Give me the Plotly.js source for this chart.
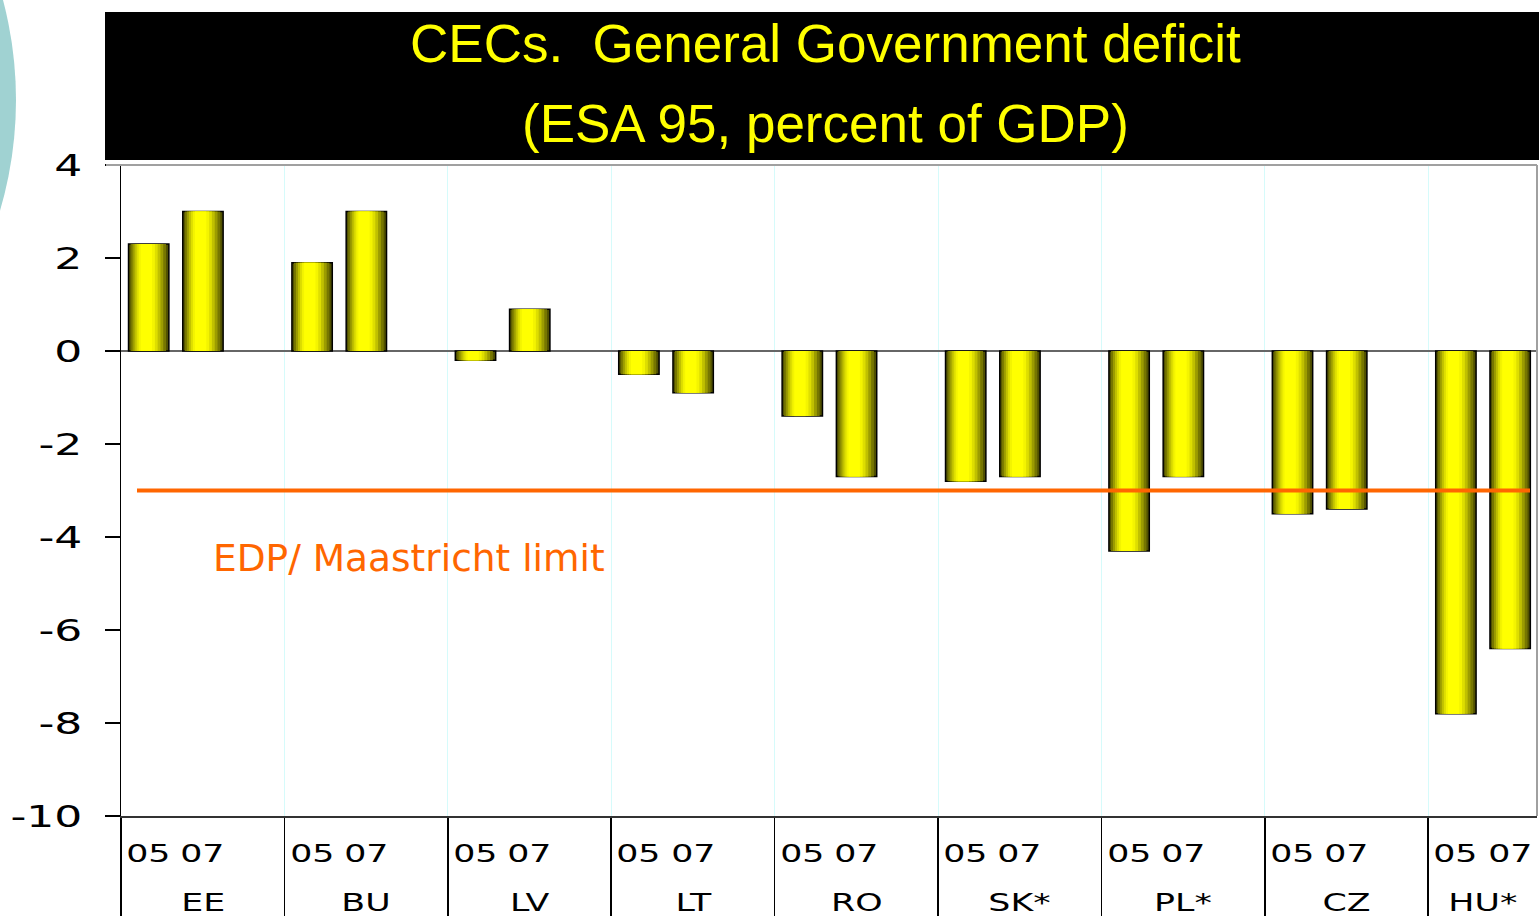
<!DOCTYPE html>
<html>
<head>
<meta charset="utf-8">
<script src="https://cdn.plot.ly/plotly-3.0.1.min.js"></script>
<style>html,body{margin:0;padding:0;background:#fff;}#chart{width:1539px;height:916px;}</style>
</head>
<body>
<div id="chart"></div>
<script>
// ---- data ----
const categories = ['EE', 'BU', 'LV', 'LT', 'RO', 'SK*', 'PL*', 'CZ', 'HU*'];
const yearLabels = ['05', '07'];
const deficit05 = [2.3, 1.9, -0.2, -0.5, -1.4, -2.8, -4.3, -3.5, -7.8];
const deficit07 = [3.0, 3.0, 0.9, -0.9, -2.7, -2.7, -2.7, -3.4, -6.4];
const yTickVals = [4, 2, 0, -2, -4, -6, -8, -10];
const yTickText = ['4', '2', '0', '-2', '-4', '-6', '-8', '-10'];
const limitValue = -3;
const limitLabel = 'EDP/ Maastricht limit';
const titleLines = ['CECs.\u00a0 General Government deficit', '(ESA 95, percent of GDP)'];

// ---- geometry helpers (pixel -> paper) ----
const W = 1539, H = 916;
const mL = 121, mR = 2, mT = 165, mB = 100;
const plotW = W - mL - mR, plotH = H - mT - mB;
const px = p => (p - mL) / plotW;
const py = p => (H - mB - p) / plotH;

const xIdx = categories.map((c, i) => i);
const barW = 0.247;
const seriesOffsets = [-0.454, -0.122];
const seriesData = [deficit05, deficit07];
const layers = [
  [1.00, '#505000'],
  [0.88, '#767600'],
  [0.76, '#9c9c00'],
  [0.64, '#c0c000'],
  [0.52, '#dede00'],
  [0.40, '#f4f400'],
  [0.28, '#ffff00']
];

const traces = [];
seriesData.forEach((vals, s) => {
  layers.forEach(([w, col], li) => {
    traces.push({
      type: 'bar',
      x: xIdx,
      y: vals,
      offset: seriesOffsets[s] + barW * (1 - w) * 0.42,
      width: barW * w,
      marker: {
        color: col,
        line: li === 0 ? {color: '#000', width: 1.5} : {width: 0}
      },
      hoverinfo: 'skip',
      showlegend: false
    });
  });
});

const boundaries = categories.map((c, i) => i - 0.5);

const annotations = [];
const stretchIdx = [];
titleLines.forEach((t, i) => {
  annotations.push({
    text: t, xref: 'paper', yref: 'paper',
    x: px(825), y: py(i === 0 ? 43.5 : 123.5),
    xanchor: 'center', yanchor: 'middle', showarrow: false,
    font: {family: 'Liberation Sans, Arial, sans-serif', size: 53, color: '#ffff00'}
  });
});
annotations.push({
  text: limitLabel, xref: 'paper', yref: 'paper',
  x: px(211), y: py(558), xanchor: 'left', yanchor: 'middle', showarrow: false,
  font: {family: 'DejaVu Sans, Verdana, sans-serif', size: 37.5, color: '#ff6600'}
});
const axisFont = {family: 'DejaVu Sans, Verdana, sans-serif', size: 24, color: '#000'};
categories.forEach((c, i) => {
  yearLabels.forEach((yl, s) => {
    stretchIdx.push(annotations.length);
    annotations.push({
      text: yl, xref: 'x', yref: 'paper',
      x: i + seriesOffsets[s] + barW / 2, y: py(853.5),
      xanchor: 'center', yanchor: 'middle', showarrow: false,
      font: axisFont
    });
  });
  const last = i === categories.length - 1;
  stretchIdx.push(annotations.length);
  annotations.push({
    text: c, xref: last ? 'paper' : 'x', yref: 'paper',
    x: last ? px(1483) : i + seriesOffsets[1] + barW / 2, y: py(903),
    xanchor: 'center', yanchor: 'middle', showarrow: false,
    font: axisFont
  });
});

const shapes = [
  {type: 'circle', xref: 'paper', yref: 'paper', layer: 'below',
   x0: px(-766), x1: px(16), y0: py(491), y1: py(-291),
   fillcolor: '#a0d2d2', line: {width: 0}},
  {type: 'rect', xref: 'paper', yref: 'paper',
   x0: px(105), x1: px(1539), y0: py(160), y1: py(12),
   fillcolor: '#000', line: {width: 0}},
  {type: 'line', xref: 'paper', yref: 'paper',
   x0: px(106), x1: px(1537), y0: 1, y1: 1,
   line: {color: '#a0a0a0', width: 2}},
  {type: 'line', xref: 'paper', yref: 'paper',
   x0: 1, x1: 1, y0: 0, y1: 1,
   line: {color: '#a0a0a0', width: 2}},
  {type: 'line', xref: 'paper', yref: 'y',
   x0: px(137), x1: px(1530), y0: limitValue, y1: limitValue,
   line: {color: '#ff6600', width: 4}}
];

const layout = {
  width: W, height: H,
  margin: {l: mL, r: mR, t: mT, b: mB, pad: 0},
  paper_bgcolor: '#fff', plot_bgcolor: '#fff',
  barmode: 'overlay',
  showlegend: false,
  hovermode: false,
  xaxis: {
    range: [-0.5, -0.5 + plotW / 163.4],
    tickvals: boundaries, ticks: 'outside', ticklen: 100,
    tickcolor: '#000', tickwidth: 1.5, showticklabels: false,
    showgrid: true, gridcolor: '#d6fbfb', gridwidth: 1,
    zeroline: false, showline: true, linecolor: '#333', linewidth: 1.5,
    fixedrange: true
  },
  yaxis: {
    range: [-10, 4], tickvals: yTickVals, ticktext: yTickText,
    ticks: 'outside', ticklen: 15, tickcolor: '#000', tickwidth: 1.5,
    showline: true, linecolor: '#000', linewidth: 1.5,
    showgrid: false, zeroline: true, zerolinecolor: '#666', zerolinewidth: 1.5,
    tickfont: {family: 'DejaVu Sans, Verdana, sans-serif', size: 31, color: '#000'},
    ticklabelstandoff: 16,
    fixedrange: true
  },
  shapes: shapes,
  annotations: annotations
};

// the original slide's axis lettering is horizontally stretched
function stretchText(el, sx) {
  const x = parseFloat(el.getAttribute('x')) || 0;
  const t = el.getAttribute('transform') || '';
  el.setAttribute('transform', t + ' translate(' + x + ',0) scale(' + sx + ',1) translate(' + (-x) + ',0)');
}

Plotly.newPlot('chart', traces, layout, {displayModeBar: false, staticPlot: true}).then(gd => {
  gd.querySelectorAll('.ytick text').forEach(el => stretchText(el, 1.42));
  gd.querySelectorAll('.annotation').forEach(g => {
    const idx = parseInt(g.getAttribute('data-index'), 10);
    if (stretchIdx.indexOf(idx) >= 0) {
      const tx = g.querySelector('text.annotation-text');
      if (tx) stretchText(tx, 1.45);
    }
  });
});
</script>
</body>
</html>
